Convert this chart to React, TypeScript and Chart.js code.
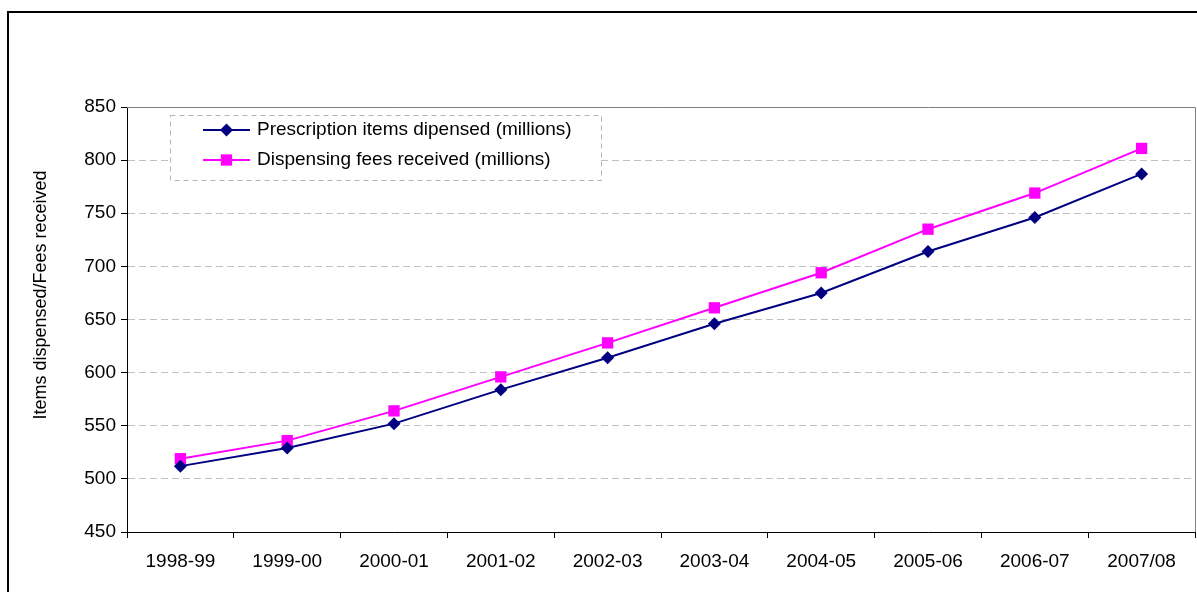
import React, { useEffect, useRef } from 'react';
import { Chart, registerables } from 'chart.js';

Chart.register(...registerables);

const categories = ['1998-99', '1999-00', '2000-01', '2001-02', '2002-03', '2003-04', '2004-05', '2005-06', '2006-07', '2007/08'];
const itemsDispensed = [512, 529, 552, 584, 614, 646, 675, 714, 746, 787];
const feesReceived = [519, 536, 564, 596, 628, 661, 694, 735, 769, 811];
const seriesLabels = ['Prescription items dipensed (millions)', 'Dispensing fees received (millions)'];
const yAxisTitle = 'Items dispensed/Fees received';
const yMin = 450;
const yMax = 850;
const yStep = 50;

const FONT = "Arial, 'Liberation Sans', sans-serif";

function drawMarker(ctx: CanvasRenderingContext2D, style: string, x: number, y: number, r: number, color: string) {
  ctx.save();
  ctx.fillStyle = color;
  ctx.beginPath();
  if (style === 'rectRot') {
    ctx.moveTo(x, y - r);
    ctx.lineTo(x + r, y);
    ctx.lineTo(x, y + r);
    ctx.lineTo(x - r, y);
    ctx.closePath();
  } else {
    const s = Math.SQRT1_2 * r;
    ctx.rect(x - s, y - s, 2 * s, 2 * s);
  }
  ctx.fill();
  ctx.restore();
}

const framePlugin = {
  id: 'framePlugin',
  beforeDatasetsDraw(chart: any) {
    const { ctx, chartArea } = chart;
    ctx.save();
    ctx.strokeStyle = '#808080';
    ctx.lineWidth = 1;
    ctx.beginPath();
    ctx.moveTo(chartArea.left, Math.round(chartArea.top) + 0.5);
    ctx.lineTo(Math.round(chartArea.right) + 0.5, Math.round(chartArea.top) + 0.5);
    ctx.lineTo(Math.round(chartArea.right) + 0.5, chartArea.bottom);
    ctx.stroke();
    ctx.restore();
  },
  afterDraw(chart: any) {
    const ctx = chart.ctx;
    ctx.save();
    // outer frame
    ctx.strokeStyle = '#000';
    ctx.lineWidth = 2;
    ctx.beginPath();
    ctx.moveTo(8, 700);
    ctx.lineTo(8, 12);
    ctx.lineTo(1400, 12);
    ctx.stroke();
    // y axis title
    ctx.save();
    ctx.translate(41, 295);
    ctx.rotate(-Math.PI / 2);
    ctx.fillStyle = '#000';
    ctx.font = `18px ${FONT}`;
    ctx.textAlign = 'center';
    ctx.textBaseline = 'middle';
    ctx.fillText(yAxisTitle, 0, 0);
    ctx.restore();
    // legend
    ctx.fillStyle = '#fff';
    ctx.fillRect(170, 115, 431, 65);
    ctx.setLineDash([5, 4]);
    ctx.strokeStyle = '#b4b4b4';
    ctx.lineWidth = 1;
    ctx.strokeRect(170.5, 115.5, 431, 65);
    ctx.setLineDash([]);
    chart.data.datasets.forEach((ds: any, i: number) => {
      const y = 130 + i * 30;
      ctx.strokeStyle = ds.borderColor;
      ctx.lineWidth = 2;
      ctx.beginPath();
      ctx.moveTo(203, y);
      ctx.lineTo(250, y);
      ctx.stroke();
      drawMarker(ctx, ds.pointStyle, 226.5, y, ds.pointRadius, ds.pointBackgroundColor);
      ctx.fillStyle = '#000';
      ctx.font = `19px ${FONT}`;
      ctx.textBaseline = 'middle';
      ctx.textAlign = 'left';
      ctx.fillText(ds.label, 257, y);
    });
    ctx.restore();
  },
};

export default function App() {
  const ref = useRef<HTMLCanvasElement>(null);
  useEffect(() => {
    if (!ref.current) return;
    const chart = new Chart(ref.current, {
      type: 'line',
      data: {
        labels: categories,
        datasets: [
          {
            label: seriesLabels[0],
            data: itemsDispensed,
            borderColor: '#000080',
            backgroundColor: '#000080',
            pointBackgroundColor: '#000080',
            pointBorderColor: '#000080',
            pointBorderWidth: 0,
            pointStyle: 'rectRot',
            pointRadius: 6.5,
            borderWidth: 2,
            tension: 0,
          },
          {
            label: seriesLabels[1],
            data: feesReceived,
            borderColor: '#FF00FF',
            backgroundColor: '#FF00FF',
            pointBackgroundColor: '#FF00FF',
            pointBorderColor: '#FF00FF',
            pointBorderWidth: 0,
            pointStyle: 'rect',
            pointRadius: 8,
            borderWidth: 2,
            tension: 0,
          },
        ],
      },
      options: {
        responsive: false,
        animation: false,
        layout: { autoPadding: false, padding: { top: 107, right: 2, left: 0, bottom: 0 } },
        plugins: {
          legend: { display: false },
          title: { display: false },
          tooltip: { enabled: false },
        },
        scales: {
          x: {
            type: 'category',
            offset: true,
            grid: {
              offset: true,
              drawOnChartArea: false,
              drawTicks: true,
              tickLength: 6,
              tickColor: '#000',
              tickWidth: 1,
              tickBorderDash: [],
            },
            border: { display: true, color: '#000', width: 1 },
            ticks: {
              color: '#000',
              font: { family: FONT, size: 19 },
              padding: 12,
              maxRotation: 0,
              autoSkip: false,
            },
            afterFit: (s: any) => {
              s.height = 60;
              s.paddingLeft = 0;
              s.paddingRight = 0;
            },
          },
          y: {
            min: yMin,
            max: yMax,
            grid: {
              color: '#c0c0c0',
              lineWidth: 1,
              drawTicks: true,
              tickLength: 6,
              tickColor: '#000',
              tickWidth: 1,
              tickBorderDash: [],
            },
            border: { display: true, color: '#000', width: 1, dash: [7, 4] },
            ticks: {
              stepSize: yStep,
              color: '#000',
              font: { family: FONT, size: 19 },
              padding: 5,
            },
            title: { display: false },
            afterFit: (s: any) => {
              s.width = 127;
              s.paddingTop = 0;
              s.paddingBottom = 0;
            },
          },
        },
      },
      plugins: [framePlugin],
    });
    return () => chart.destroy();
  }, []);
  return (
    <div style={{ position: 'absolute', left: 0, top: 0, width: 1197, height: 592, background: '#fff' }}>
      <canvas ref={ref} width={1197} height={592} style={{ display: 'block' }} />
    </div>
  );
}
